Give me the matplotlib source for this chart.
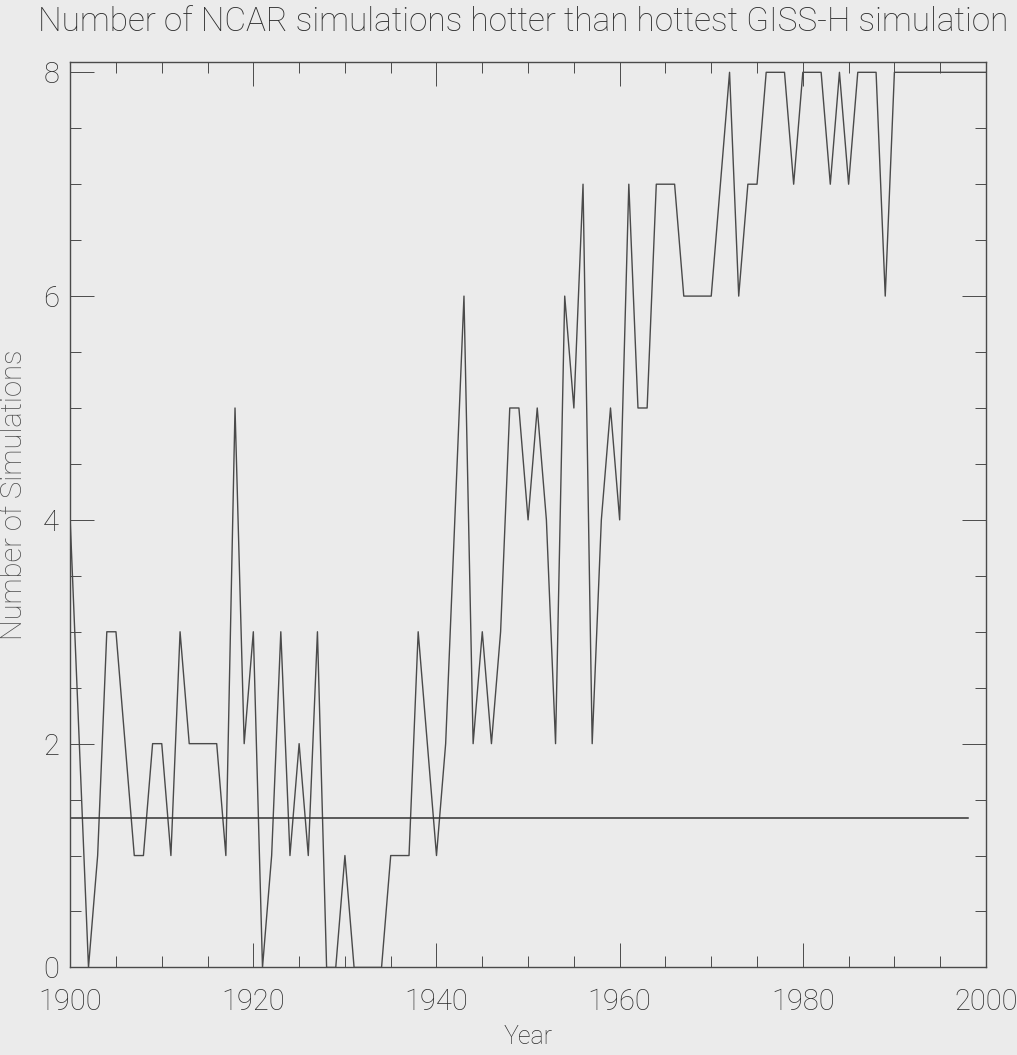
import numpy as np
import matplotlib
matplotlib.use("Agg")
import matplotlib.pyplot as plt
from matplotlib.ticker import MultipleLocator

# data: count of NCAR runs above the hottest GISS-H run
years = list(range(1900, 2001))
counts = [4, 2, 0, 1, 3, 3, 2, 1, 1, 2,
          2, 1, 3, 2, 2, 2, 2, 1, 5, 2,
          3, 0, 1, 3, 1, 2, 1, 3, 0, 0,
          1, 0, 0, 0, 0, 1, 1, 1, 3, 2,
          1, 2, 4, 6, 2, 3, 2, 3, 5, 5,
          4, 5, 4, 2, 6, 5, 7, 2, 4, 5,
          4, 7, 5, 5, 7, 7, 7, 6, 6, 6,
          6, 7, 8, 6, 7, 7, 8, 8, 8, 7,
          8, 8, 8, 7, 8, 7, 8, 8, 8, 6,
          8, 8, 8, 8, 8, 8, 8, 8, 8, 8,
          8]
ref_level = 1.336
ref_years = [1900, 1998]

bg = "#ebebeb"
ink = "#4a4a4a"
txt = "#2e2e2e"
thin = ["Roboto", "DejaVu Sans"]

fig = plt.figure(figsize=(10.17, 10.55), dpi=100, facecolor=bg)
ax = fig.add_axes([0.069, 0.083, 0.9005, 0.858], facecolor=bg)

ax.plot(years, counts, color=ink, lw=1.0)
ax.plot(ref_years, [ref_level, ref_level], color="#333333", lw=1.1)

ax.set_xlim(1900, 2000)
ax.set_ylim(0, 8.09)
ax.set_xticks([1900, 1920, 1940, 1960, 1980, 2000])
ax.set_yticks([0, 2, 4, 6, 8])
ax.xaxis.set_minor_locator(MultipleLocator(5))
ax.yaxis.set_minor_locator(MultipleLocator(0.5))
ax.tick_params(which="both", direction="in", top=True, right=True, color=ink, width=0.7)
ax.tick_params(which="major", length=17)
ax.tick_params(which="minor", length=8)
ax.tick_params(axis="x", which="major", pad=15)
ax.tick_params(axis="y", which="major", pad=8)
for lab in ax.get_xticklabels() + ax.get_yticklabels():
    lab.set_family(thin)
    lab.set_fontweight("light")
    lab.set_fontsize(21)
    lab.set_color(txt)
for s in ax.spines.values():
    s.set_color(ink)
    s.set_linewidth(1.0)

ax.set_xlabel("Year", family=thin, fontweight="light", fontsize=18, color=txt, labelpad=6)
ax.set_ylabel("Number of Simulations", family=thin, fontweight="light",
              fontsize=21, color="#4e4e4e")
ax.yaxis.set_label_coords(-0.046, 0.522)
fig.text(0.514, 0.979, "Number of NCAR simulations hotter than hottest GISS-H simulation",
         family=thin, fontweight="light", fontsize=24, color=txt, ha="center", va="center")

fig.savefig("out.png", dpi=100, facecolor=bg)
